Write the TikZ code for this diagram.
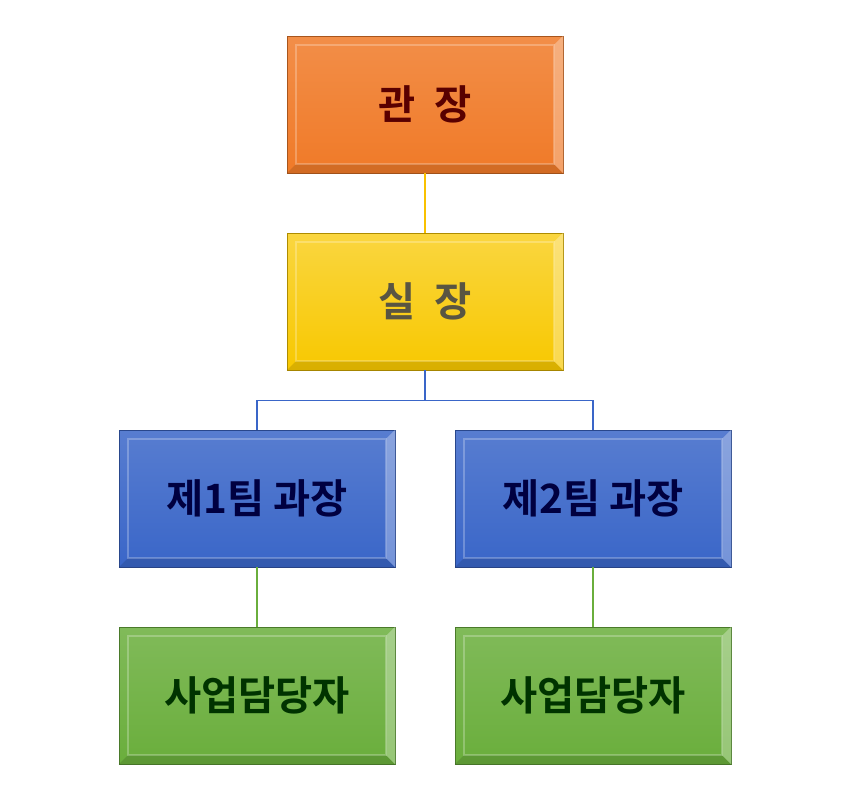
\documentclass[tikz,border=0pt]{standalone}
\usepackage{fontspec}
\newfontfamily\kr{Noto Sans CJK KR}[BoldFont={Noto Sans CJK KR Bold}]
\begin{document}
\begin{tikzpicture}[x=0.02cm,y=-0.02cm,
 box/.style={minimum width=5.52cm,minimum height=2.74cm,inner sep=0pt,font=\kr\bfseries\fontsize{23}{28}\selectfont},
]
\useasboundingbox (0,0) rectangle (850,801);
\definecolor{oran}{HTML}{F07A28}
\definecolor{yel}{HTML}{F8C800}
\definecolor{blu}{HTML}{3A66C8}
\definecolor{grn}{HTML}{6AAE3C}
\node[box,draw=oran!70!black,top color=oran!85!white,bottom color=oran,text=red!35!black] (a) at (425,104.5) {관\ \ 장};
\node[box,draw=yel!70!black,top color=yel!75!white,bottom color=yel,text=yellow!25!black] (b) at (425,301.5) {실\ \ 장};
\node[box,draw=blu!70!black,top color=blu!85!white,bottom color=blu,text=blue!25!black] (c) at (257,498.5) {제1팀 과장};
\node[box,draw=blu!70!black,top color=blu!85!white,bottom color=blu,text=blue!25!black] (d) at (593,498.5) {제2팀 과장};
\node[box,draw=grn!70!black,top color=grn!85!white,bottom color=grn,text=green!20!black] (e) at (257,695.5) {사업담당자};
\node[box,draw=grn!70!black,top color=grn!85!white,bottom color=grn,text=green!20!black] (f) at (593,695.5) {사업담당자};
\foreach \n/\c in {a/oran,b/yel,c/blu,d/blu,e/grn,f/grn}{
  \draw[white,opacity=0.25,line width=1pt] ([shift={(9,-9)}]\n.south west) rectangle ([shift={(-9,9)}]\n.north east);
  \fill[black,opacity=0.12] (\n.south west) -- ([shift={(9,-9)}]\n.south west) -- ([shift={(-9,-9)}]\n.south east) -- (\n.south east) -- cycle;
  \fill[white,opacity=0.3] (\n.north east) -- ([shift={(-9,9)}]\n.north east) -- ([shift={(-9,-9)}]\n.south east) -- (\n.south east) -- cycle;
}
\draw[yel!90!orange,line width=0.8pt] (a) -- (b);
\draw[blu,line width=0.8pt] (b.south) -- ++(0,30) -| (c.north);
\draw[blu,line width=0.8pt] (b.south) -- ++(0,30) -| (d.north);
\draw[grn,line width=0.8pt] (c) -- (e);
\draw[grn,line width=0.8pt] (d) -- (f);
\end{tikzpicture}
\end{document}
